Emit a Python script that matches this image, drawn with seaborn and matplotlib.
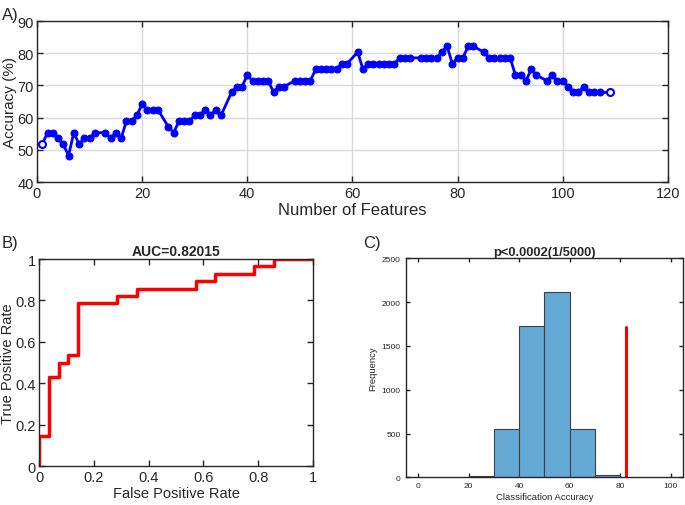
import numpy as np
import pandas as pd
import matplotlib
matplotlib.use('Agg')
import matplotlib.pyplot as plt
import seaborn as sns

# A) accuracy vs number of features (every 12th count is absent in the curve)
n_features = [1, 2, 3, 4, 5, 6, 7, 8, 9, 10, 11,
              13, 14, 15, 16, 17, 18, 19, 20, 21, 22, 23,
              25, 26, 27, 28, 29, 30, 31, 32, 33, 34, 35,
              37, 38, 39, 40, 41, 42, 43, 44, 45, 46, 47,
              49, 50, 51, 52, 53, 54, 55, 56, 57, 58, 59,
              61, 62, 63, 64, 65, 66, 67, 68, 69, 70, 71,
              73, 74, 75, 76, 77, 78, 79, 80, 81, 82, 83,
              85, 86, 87, 88, 89, 90, 91, 92, 93, 94, 95,
              97, 98, 99, 100, 101, 102, 103, 104, 105, 106, 107,
              109]
accuracy = [51.79, 55.36, 55.36, 53.57, 51.79, 48.21, 55.36, 51.79, 53.57, 53.57, 55.36,
            55.36, 53.57, 55.36, 53.57, 58.93, 58.93, 60.71, 64.29, 62.50, 62.50, 62.50,
            57.14, 55.36, 58.93, 58.93, 58.93, 60.71, 60.71, 62.50, 60.71, 62.50, 60.71,
            67.86, 69.64, 69.64, 73.21, 71.43, 71.43, 71.43, 71.43, 67.86, 69.64, 69.64,
            71.43, 71.43, 71.43, 71.43, 75.00, 75.00, 75.00, 75.00, 75.00, 76.79, 76.79,
            80.36, 75.00, 76.79, 76.79, 76.79, 76.79, 76.79, 76.79, 78.57, 78.57, 78.57,
            78.57, 78.57, 78.57, 78.57, 80.36, 82.14, 76.79, 78.57, 78.57, 82.14, 82.14,
            80.36, 78.57, 78.57, 78.57, 78.57, 78.57, 73.21, 73.21, 71.43, 75.00, 73.21,
            71.43, 73.21, 71.43, 71.43, 69.64, 67.86, 67.86, 69.64, 67.86, 67.86, 67.86,
            67.86]

# B) ROC curve vertices (counts out of 28 negatives / 28 positives)
fp_count = [0, 0, 1, 1, 2, 2, 3, 3, 4, 4, 8, 8, 10, 10, 16, 16, 18, 18, 22, 22, 24, 24, 28]
tp_count = [0, 4, 4, 12, 12, 14, 14, 15, 15, 22, 22, 23, 23, 24, 24, 25, 25, 26, 26, 27, 27, 28, 28]
n_class = 28
auc_text = 'AUC=0.82015'

# C) permutation test histogram
bin_edges = [20, 30, 40, 50, 60, 70, 80]
bin_counts = [20, 550, 1725, 2120, 550, 25]
observed_acc = 82.14
observed_height = 1712
p_text = 'p<0.0002(1/5000)'

sns.set_style('ticks')
plt.rcParams['font.family'] = ['Liberation Sans', 'DejaVu Sans']
axis_col = '#262626'
plt.rcParams.update({
    'axes.edgecolor': axis_col, 'axes.labelcolor': axis_col,
    'xtick.color': axis_col, 'ytick.color': axis_col,
    'xtick.direction': 'in', 'ytick.direction': 'in',
    'xtick.top': True, 'ytick.right': True,
    'axes.linewidth': 1.0,
})

fig = plt.figure(figsize=(6.85, 5.06), dpi=100)

# ---- panel A
ax_a = fig.add_axes([0.054, 0.638, 0.921, 0.3185])
df_a = pd.DataFrame({'n': n_features, 'acc': accuracy})
sns.lineplot(data=df_a, x='n', y='acc', ax=ax_a, color='#0000FF', linewidth=2,
             marker='o', markersize=5, markeredgecolor='#0000FF', sort=False, estimator=None)
# hollow first and last markers
ends = df_a.iloc[[0, -1]]
ax_a.plot(ends['n'], ends['acc'], linestyle='none', marker='o', markersize=5,
          markerfacecolor='white', markeredgecolor='#0000FF', markeredgewidth=1.5)
ax_a.set_xlim(0, 120)
ax_a.set_ylim(40, 90)
ax_a.set_xticks(np.arange(0, 121, 20))
ax_a.set_yticks(np.arange(40, 91, 10))
ax_a.grid(True, color='#D9D9D9', linewidth=1)
ax_a.set_axisbelow(True)
ax_a.tick_params(labelsize=10.5, length=4, width=1, pad=2.5)
ax_a.set_xlabel('Number of Features', fontsize=12, labelpad=2)
ax_a.set_ylabel('Accuracy (%)', fontsize=11, labelpad=0)

# ---- panel B
ax_b = fig.add_axes([0.057, 0.077, 0.400, 0.409])
df_b = pd.DataFrame({'fpr': np.array(fp_count) / n_class, 'tpr': np.array(tp_count) / n_class})
sns.lineplot(data=df_b, x='fpr', y='tpr', ax=ax_b, color='#FF0000', linewidth=2.5,
             sort=False, estimator=None)
ax_b.set_xlim(0, 1)
ax_b.set_ylim(0, 1)
ax_b.set_xticks(np.arange(0, 1.01, 0.2))
ax_b.set_yticks(np.arange(0, 1.01, 0.2))
ax_b.set_xticklabels(['0', '0.2', '0.4', '0.6', '0.8', '1'])
ax_b.set_yticklabels(['0', '0.2', '0.4', '0.6', '0.8', '1'])
ax_b.tick_params(labelsize=10.5, length=4, width=1, pad=2.5)
ax_b.set_xlabel('False Positive Rate', fontsize=10.5, labelpad=2)
ax_b.set_ylabel('True Positive Rate', fontsize=10.5, labelpad=0)
ax_b.set_title(auc_text, fontsize=10, fontweight='bold', pad=3)

# ---- panel C
ax_c = fig.add_axes([0.592, 0.0547, 0.4055, 0.4328])
centers = [(a + b) / 2 for a, b in zip(bin_edges[:-1], bin_edges[1:])]
sns.histplot(x=centers, weights=bin_counts, bins=bin_edges, ax=ax_c,
             color='#65A9D7', alpha=1, edgecolor='#404040', linewidth=0.8)
ax_c.plot([observed_acc, observed_acc], [0, observed_height], color='#FF0000', linewidth=2.2)
ax_c.set_xlim(-5, 105)
ax_c.set_ylim(0, 2500)
ax_c.set_xticks(np.arange(0, 101, 20))
ax_c.set_yticks(np.arange(0, 2501, 500))
ax_c.tick_params(labelsize=6, length=3, width=1)
ax_c.set_xlabel('Classification Accuracy', fontsize=6.8, labelpad=2)
ax_c.set_ylabel('Frequency', fontsize=6.8, labelpad=3)
ax_c.set_title(p_text, fontsize=9.3, fontweight='bold', pad=2)

# panel letters
fig.text(0.003, 0.985, 'A)', fontsize=12, va='top', ha='left')
fig.text(0.003, 0.533, 'B)', fontsize=12, va='top', ha='left')
fig.text(0.530, 0.533, 'C)', fontsize=12, va='top', ha='left')

fig.savefig('out.png', dpi=100)
